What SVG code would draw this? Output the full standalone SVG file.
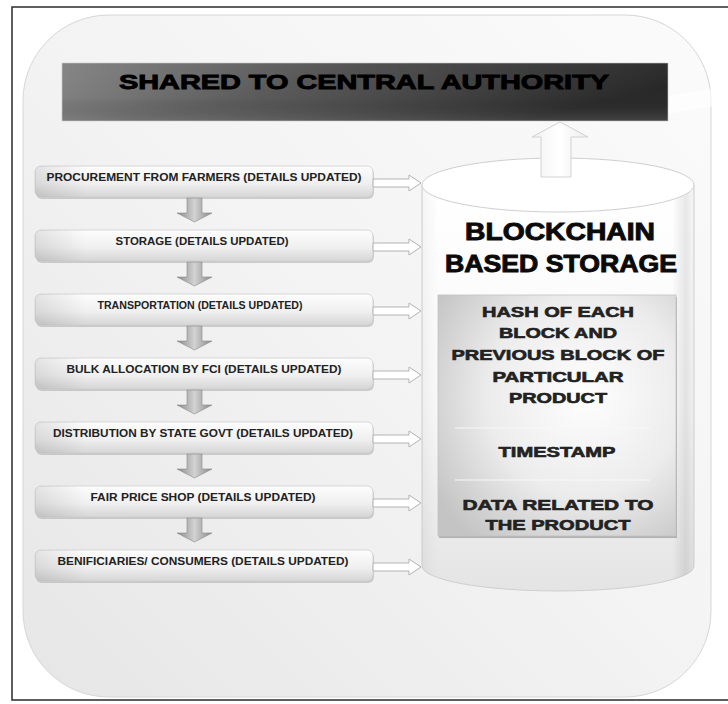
<svg xmlns="http://www.w3.org/2000/svg" width="728" height="704" viewBox="0 0 728 704">
<defs>
<linearGradient id="bgGrad" x1="1" y1="0" x2="0" y2="1">
<stop offset="0" stop-color="#fbfbfb"/>
<stop offset="0.5" stop-color="#f3f3f3"/>
<stop offset="1" stop-color="#e6e6e6"/>
</linearGradient>
<linearGradient id="titleGrad" x1="0" y1="0" x2="1" y2="0.4">
<stop offset="0" stop-color="#9c9c9c"/>
<stop offset="0.45" stop-color="#5e5e5e"/>
<stop offset="1" stop-color="#2a2a2a"/>
</linearGradient>
<linearGradient id="titleShade" x1="0" y1="0" x2="0" y2="1">
<stop offset="0" stop-color="#000" stop-opacity="0.15"/>
<stop offset="0.6" stop-color="#000" stop-opacity="0"/>
<stop offset="1" stop-color="#fff" stop-opacity="0.12"/>
</linearGradient>
<linearGradient id="boxGrad" x1="0" y1="0" x2="0" y2="1">
<stop offset="0" stop-color="#fdfdfd"/>
<stop offset="0.55" stop-color="#f0f0f0"/>
<stop offset="1" stop-color="#d6d6d6"/>
</linearGradient>
<linearGradient id="boxSide" x1="0" y1="0" x2="1" y2="0">
<stop offset="0" stop-color="#000" stop-opacity="0.10"/>
<stop offset="0.15" stop-color="#000" stop-opacity="0"/>
<stop offset="1" stop-color="#000" stop-opacity="0"/>
</linearGradient>
<linearGradient id="downGrad" x1="0" y1="0" x2="1" y2="0">
<stop offset="0" stop-color="#8a8a8a"/>
<stop offset="0.5" stop-color="#d2d2d2"/>
<stop offset="1" stop-color="#8a8a8a"/>
</linearGradient>
<linearGradient id="upGrad" x1="0" y1="0" x2="1" y2="0">
<stop offset="0" stop-color="#f2f2f2"/>
<stop offset="0.5" stop-color="#ffffff"/>
<stop offset="1" stop-color="#ececec"/>
</linearGradient>
<linearGradient id="cylGrad" x1="0" y1="0" x2="0" y2="1">
<stop offset="0" stop-color="#ffffff"/>
<stop offset="0.55" stop-color="#f8f8f8"/>
<stop offset="1" stop-color="#e4e4e4"/>
</linearGradient>
<linearGradient id="cylSide" x1="0" y1="0" x2="1" y2="0">
<stop offset="0" stop-color="#000" stop-opacity="0.04"/>
<stop offset="0.06" stop-color="#000" stop-opacity="0"/>
<stop offset="0.92" stop-color="#000" stop-opacity="0"/>
<stop offset="0.97" stop-color="#000" stop-opacity="0.09"/>
<stop offset="1" stop-color="#000" stop-opacity="0.03"/>
</linearGradient>
<radialGradient id="innerGrad" cx="0.62" cy="0.42" r="0.75">
<stop offset="0" stop-color="#fefefe"/>
<stop offset="0.55" stop-color="#ececec"/>
<stop offset="1" stop-color="#c4c4c4"/>
</radialGradient>
<path id="downArrow" d="M-7.5,0 H7.5 V15 H17.5 L0,24 L-17.5,15 H-7.5 Z"/>
<path id="rightArrow" d="M0,-4 H36 V-8 L48,0 L36,8 V4 H0 Z"/>
</defs>
<style>
.frame{fill:#ffffff;stroke:#2b2b2b;stroke-width:1.5}
.bg{fill:url(#bgGrad);stroke:#d6d6d6;stroke-width:1}
.box{fill:url(#boxGrad);stroke:#cfcfcf;stroke-width:0.8}
.boxshadow{fill:#a9a9a9;opacity:0.55}
.boxtxt{font-family:"Liberation Sans",Arial,sans-serif;font-weight:bold;font-size:10.5px;fill:#222;text-anchor:middle}
.title{font-family:"Liberation Sans",Arial,sans-serif;font-weight:bold;font-size:20px;fill:#000;stroke:#000;stroke-width:0.9;text-anchor:middle}
.big{font-family:"Liberation Sans",Arial,sans-serif;font-weight:bold;font-size:23px;fill:#0a0a0a;stroke:#0a0a0a;stroke-width:0.9;text-anchor:middle}
.inner{font-family:"Liberation Sans",Arial,sans-serif;font-weight:bold;font-size:14px;fill:#222;stroke:#222;stroke-width:0.6;text-anchor:middle}
.down{fill:url(#downGrad);stroke:#8a8a8a;stroke-width:0.6}
.right{fill:#ffffff;stroke:#b3b3b3;stroke-width:1}
.up{fill:url(#upGrad);stroke:#d2d2d2;stroke-width:1}
.sep{stroke:#f7f7f7;stroke-width:1.2}
</style>

<rect class="frame" x="12" y="7" width="730" height="693"/>
<rect class="bg" x="23" y="15" width="688" height="682" rx="86" ry="86"/>
<polygon points="668,96 728,86 728,104 668,114" fill="#ffffff" opacity="0.6"/>

<g id="title-node">
<rect x="62" y="63" width="606" height="58" fill="url(#titleGrad)"/>
<rect x="62" y="63" width="606" height="58" fill="url(#titleShade)" stroke="#c8c8c8" stroke-width="0.6"/>
<text class="title" x="364" y="89" textLength="490" lengthAdjust="spacingAndGlyphs">SHARED TO CENTRAL AUTHORITY</text>
</g>

<g id="step-procurement">
<rect class="boxshadow" x="36" y="168" width="338" height="31" rx="6"/>
<rect class="box" x="35" y="166" width="338" height="31" rx="6"/>
<rect x="35" y="166" width="338" height="31" rx="6" fill="url(#boxSide)"/>
<text class="boxtxt" x="204" y="181" textLength="315" lengthAdjust="spacingAndGlyphs">PROCUREMENT FROM FARMERS (DETAILS UPDATED)</text>
</g>
<g id="step-storage">
<rect class="boxshadow" x="36" y="232" width="338" height="31" rx="6"/>
<rect class="box" x="35" y="230" width="338" height="31" rx="6"/>
<rect x="35" y="230" width="338" height="31" rx="6" fill="url(#boxSide)"/>
<text class="boxtxt" x="202" y="245" textLength="173" lengthAdjust="spacingAndGlyphs">STORAGE (DETAILS UPDATED)</text>
</g>
<g id="step-transportation">
<rect class="boxshadow" x="36" y="296" width="338" height="31" rx="6"/>
<rect class="box" x="35" y="294" width="338" height="31" rx="6"/>
<rect x="35" y="294" width="338" height="31" rx="6" fill="url(#boxSide)"/>
<text class="boxtxt" x="200" y="309" textLength="205" lengthAdjust="spacingAndGlyphs">TRANSPORTATION (DETAILS UPDATED)</text>
</g>
<g id="step-bulk">
<rect class="boxshadow" x="36" y="360" width="338" height="31" rx="6"/>
<rect class="box" x="35" y="358" width="338" height="31" rx="6"/>
<rect x="35" y="358" width="338" height="31" rx="6" fill="url(#boxSide)"/>
<text class="boxtxt" x="204" y="373" textLength="275" lengthAdjust="spacingAndGlyphs">BULK ALLOCATION BY FCI (DETAILS UPDATED)</text>
</g>
<g id="step-distribution">
<rect class="boxshadow" x="36" y="424" width="338" height="31" rx="6"/>
<rect class="box" x="35" y="422" width="338" height="31" rx="6"/>
<rect x="35" y="422" width="338" height="31" rx="6" fill="url(#boxSide)"/>
<text class="boxtxt" x="203" y="437" textLength="300" lengthAdjust="spacingAndGlyphs">DISTRIBUTION BY STATE GOVT (DETAILS UPDATED)</text>
</g>
<g id="step-fairprice">
<rect class="boxshadow" x="36" y="488" width="338" height="31" rx="6"/>
<rect class="box" x="35" y="486" width="338" height="31" rx="6"/>
<rect x="35" y="486" width="338" height="31" rx="6" fill="url(#boxSide)"/>
<text class="boxtxt" x="203" y="501" textLength="225" lengthAdjust="spacingAndGlyphs">FAIR PRICE SHOP (DETAILS UPDATED)</text>
</g>
<g id="step-beneficiaries">
<rect class="boxshadow" x="36" y="552" width="338" height="31" rx="6"/>
<rect class="box" x="35" y="550" width="338" height="31" rx="6"/>
<rect x="35" y="550" width="338" height="31" rx="6" fill="url(#boxSide)"/>
<text class="boxtxt" x="203" y="565" textLength="291" lengthAdjust="spacingAndGlyphs">BENIFICIARIES/ CONSUMERS (DETAILS UPDATED)</text>
</g>

<g id="blockchain-storage">
<path d="M422,185 V566 A136,25 0 0 0 694,566 V185 Z" fill="url(#cylGrad)" stroke="#cfcfcf" stroke-width="1"/>
<path d="M422,185 V566 A136,25 0 0 0 694,566 V185 Z" fill="url(#cylSide)"/>
<ellipse cx="558" cy="185" rx="136" ry="27" fill="#ffffff" stroke="#cfcfcf" stroke-width="1"/>
<text class="big" x="560" y="240" textLength="190" lengthAdjust="spacingAndGlyphs">BLOCKCHAIN</text>
<text class="big" x="561" y="272" textLength="232" lengthAdjust="spacingAndGlyphs">BASED STORAGE</text>
<rect x="439" y="297" width="238" height="241" fill="#8c8c8c" opacity="0.6"/>
<rect x="438" y="295" width="238" height="241" fill="url(#innerGrad)" stroke="#c2c2c2" stroke-width="0.8"/>
<text class="inner" x="558" y="317" textLength="152" lengthAdjust="spacingAndGlyphs">HASH OF EACH</text>
<text class="inner" x="558" y="338" textLength="118" lengthAdjust="spacingAndGlyphs">BLOCK AND</text>
<text class="inner" x="558" y="360" textLength="213" lengthAdjust="spacingAndGlyphs">PREVIOUS BLOCK OF</text>
<text class="inner" x="558" y="382" textLength="131" lengthAdjust="spacingAndGlyphs">PARTICULAR</text>
<text class="inner" x="558" y="403" textLength="98" lengthAdjust="spacingAndGlyphs">PRODUCT</text>
<line class="sep" x1="455" y1="428" x2="650" y2="428"/>
<text class="inner" x="557" y="457" textLength="117" lengthAdjust="spacingAndGlyphs">TIMESTAMP</text>
<line class="sep" x1="455" y1="480" x2="650" y2="480"/>
<text class="inner" x="558" y="510" textLength="191" lengthAdjust="spacingAndGlyphs">DATA RELATED TO</text>
<text class="inner" x="558" y="530" textLength="145" lengthAdjust="spacingAndGlyphs">THE PRODUCT</text>
</g>

<g id="connectors">
<use href="#downArrow" class="down" transform="translate(194.5,198)"/>
<use href="#downArrow" class="down" transform="translate(194.5,262)"/>
<use href="#downArrow" class="down" transform="translate(194.5,326)"/>
<use href="#downArrow" class="down" transform="translate(194.5,390)"/>
<use href="#downArrow" class="down" transform="translate(194.5,454)"/>
<use href="#downArrow" class="down" transform="translate(194.5,518)"/>
<use href="#rightArrow" class="right" transform="translate(373,183)"/>
<use href="#rightArrow" class="right" transform="translate(373,247)"/>
<use href="#rightArrow" class="right" transform="translate(373,311)"/>
<use href="#rightArrow" class="right" transform="translate(373,375)"/>
<use href="#rightArrow" class="right" transform="translate(373,439)"/>
<use href="#rightArrow" class="right" transform="translate(373,503)"/>
<use href="#rightArrow" class="right" transform="translate(373,567)"/>
<path class="up" d="M560,122 L588,137 H571 V177 H541 V137 H532 Z"/>
</g>
</svg>
